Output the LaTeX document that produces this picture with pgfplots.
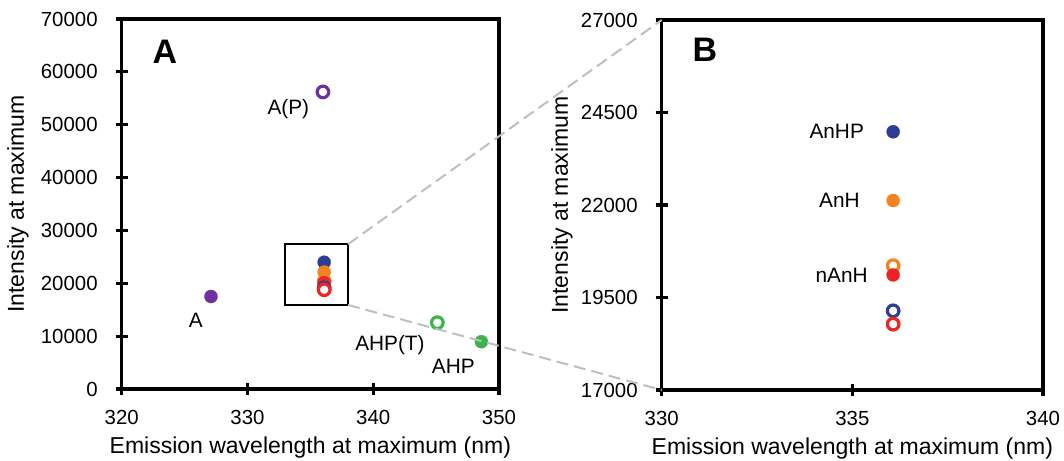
\documentclass[border=0pt]{standalone}
\usepackage{fontspec}
\setmainfont{Liberation Sans}
\usepackage{pgfplots}
\pgfplotsset{compat=1.18}
\definecolor{cpurple}{RGB}{112,48,160}
\definecolor{cblue}{RGB}{46,62,150}
\definecolor{corange}{RGB}{245,130,32}
\definecolor{cred}{RGB}{237,36,36}
\definecolor{cgreen}{RGB}{59,181,74}
\pgfplotsset{
  panel/.style={
    scale only axis,
    axis line style={line width=1.6pt},
    every tick/.style={black,line width=1.6pt},
    tick align=center,
    major tick length=6pt,
    xtick pos=bottom, ytick pos=left,
    tick label style={font=\fontsize{10.2}{12}\selectfont},
    yticklabel style={xshift=-5.5pt},
    xticklabel style={yshift=-4pt},
    label style={font=\fontsize{11.5}{13}\selectfont},
    /pgf/number format/assume math mode=true,
    /pgf/number format/1000 sep={},
    clip=false,
  },
  fmark/.style={only marks,mark=*,mark size=3.3pt,
    mark options={draw=#1,fill=#1,line width=0.1pt}},
  omark/.style={only marks,mark=*,mark size=2.9pt,
    mark options={draw=#1,fill=white,line width=1.6pt}},
}
\begin{document}
\begin{tikzpicture}
\useasboundingbox (0,0) rectangle (532pt,230pt);
\begin{axis}[panel,
  at={(60.85pt,35.5pt)}, anchor=south west,
  width=188.65pt, height=185pt,
  xmin=320, xmax=350, ymin=0, ymax=70000,
  xtick={320,330,340,350},
  ytick={0,10000,...,70000},
  scaled y ticks=false,
  xlabel={Emission wavelength at maximum (nm)},
  ylabel={Intensity at maximum},
  xlabel style={at={(axis description cs:0.5,-0.159)},anchor=center},
  ylabel style={at={(axis description cs:-0.275,0.5)},anchor=center},
]
\draw[line width=1pt] (axis cs:333,15900) rectangle (axis cs:338,27400);
\coordinate (zTR) at (axis cs:338,27400);
\coordinate (zBR) at (axis cs:338,15900);
\addplot[fmark=cpurple] coordinates {(327.1,17500)};
\addplot[omark=cpurple] coordinates {(336.0,56200)};
\addplot[omark=cgreen] coordinates {(345.1,12550)};
\addplot[fmark=cgreen] coordinates {(348.6,8950)};
\addplot[fmark=cblue] coordinates {(336.1,23980)};
\addplot[fmark=corange] coordinates {(336.1,22120)};
\addplot[omark=corange] coordinates {(336.1,20360)};
\addplot[fmark=cred] coordinates {(336.1,20110)};
\addplot[omark=cblue] coordinates {(336.1,19140)};
\addplot[omark=cred] coordinates {(336.1,18780)};
\node[font=\fontsize{10.4}{12}\selectfont] at (axis cs:333.25,52900) {A(P)};
\node[font=\fontsize{10.4}{12}\selectfont] at (axis cs:325.9,13050) {A};
\node[font=\fontsize{10.4}{12}\selectfont] at (axis cs:341.33,8320) {AHP(T)};
\node[font=\fontsize{10.4}{12}\selectfont] at (axis cs:346.37,4220) {AHP};
\node[font=\fontsize{17}{19}\selectfont\bfseries] at (axis cs:323.44,63800) {A};
\end{axis}
\begin{axis}[panel,
  at={(330.85pt,35pt)}, anchor=south west,
  width=190.65pt, height=185pt,
  xmin=330, xmax=340, ymin=17000, ymax=27000,
  xtick={330,335,340},
  ytick={17000,19500,22000,24500,27000},
  scaled y ticks=false,
  xlabel={Emission wavelength at maximum (nm)},
  ylabel={Intensity at maximum},
  xlabel style={at={(axis description cs:0.5,-0.157)},anchor=center},
  ylabel style={at={(axis description cs:-0.262,0.5)},anchor=center},
]
\coordinate (bTL) at (rel axis cs:0,1);
\coordinate (bBL) at (rel axis cs:0,0);
\addplot[fmark=cblue] coordinates {(336.07,23980)};
\addplot[fmark=corange] coordinates {(336.07,22120)};
\addplot[omark=corange] coordinates {(336.07,20360)};
\addplot[fmark=cred] coordinates {(336.07,20110)};
\addplot[omark=cblue] coordinates {(336.07,19140)};
\addplot[omark=cred] coordinates {(336.07,18780)};
\node[font=\fontsize{10.4}{12}\selectfont] at (axis cs:334.59,23980) {AnHP};
\node[font=\fontsize{10.4}{12}\selectfont] at (axis cs:334.66,22120) {AnH};
\node[font=\fontsize{10.4}{12}\selectfont] at (axis cs:334.72,20110) {nAnH};
\node[font=\fontsize{17}{19}\selectfont\bfseries] at (axis cs:331.13,26190) {B};
\end{axis}
\draw[dash pattern=on 6pt off 3pt, color=black!25, line width=1pt] (zTR) -- (bTL);
\draw[dash pattern=on 6pt off 3pt, color=black!25, line width=1pt] (zBR) -- (bBL);
\end{tikzpicture}
\end{document}
